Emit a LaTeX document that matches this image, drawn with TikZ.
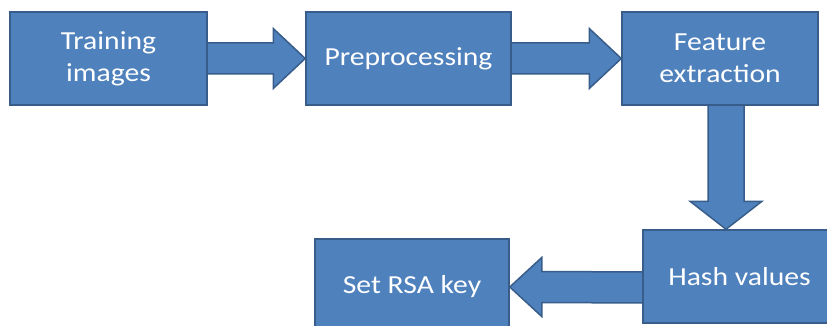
\documentclass[tikz,border=0pt]{standalone}
\usepackage{fontspec}
\setmainfont{Carlito}[FakeStretch=1.14]
\usetikzlibrary{positioning}
\usetikzlibrary{backgrounds}

\definecolor{boxblue}{HTML}{4F81BD}
\definecolor{boxline}{HTML}{385D8A}

\begin{document}
\begin{tikzpicture}[x=1pt,y=1pt,
box/.style={draw=boxline,fill=boxblue,line width=1.5pt,text=white,align=center,
inner sep=0pt,font=\fontsize{26}{32}\selectfont},
bigarrow/.style={draw=boxline,fill=boxblue,line width=1.5pt,line join=miter}]
\useasboundingbox (0,0) rectangle (827,-326);
\node[box,minimum width=197pt,minimum height=93pt] (train) at (108.5,-58.5) {Training\\images};
\node[box,minimum width=205pt,minimum height=93pt] (prep) at (408.5,-58.5) {Preprocessing};
\node[box,minimum width=196pt,minimum height=93pt] (feat) at (720,-58.5) {Feature\\extraction};
\node[box,minimum width=193pt,minimum height=93pt] (hash) at (739.5,-276.5) {Hash values};
\node[box,minimum width=194pt,minimum height=96pt] (rsa) at (412,-287) {Set RSA key};
\begin{scope}[on background layer]
\foreach \a/\b in {train/prep,prep/feat}
\draw[bigarrow] ([yshift=15.5]\a.east) -- ([xshift=-32,yshift=15.5]\b.west)
-- ([xshift=-32,yshift=30]\b.west) -- (\b.west)
-- ([xshift=-32,yshift=-30]\b.west) -- ([xshift=-32,yshift=-15.5]\b.west)
-- ([yshift=-15.5]\a.east);
\draw[bigarrow] ([xshift=-12]feat.south) -- ([xshift=-31.5,yshift=28]hash.north)
-- ([xshift=-49.5,yshift=28]hash.north) -- ([xshift=-13.5]hash.north)
-- ([xshift=22.5,yshift=28]hash.north) -- ([xshift=4.5,yshift=28]hash.north)
-- ([xshift=24]feat.south);
\draw[bigarrow] ([yshift=4.5]hash.west) -- ([xshift=32,yshift=15.5]rsa.east)
-- ([xshift=32,yshift=29.5]rsa.east) -- (rsa.east)
-- ([xshift=32,yshift=-29.5]rsa.east) -- ([xshift=32,yshift=-15.5]rsa.east)
-- ([yshift=-26.5]hash.west);
\end{scope}
\end{tikzpicture}
\end{document}
